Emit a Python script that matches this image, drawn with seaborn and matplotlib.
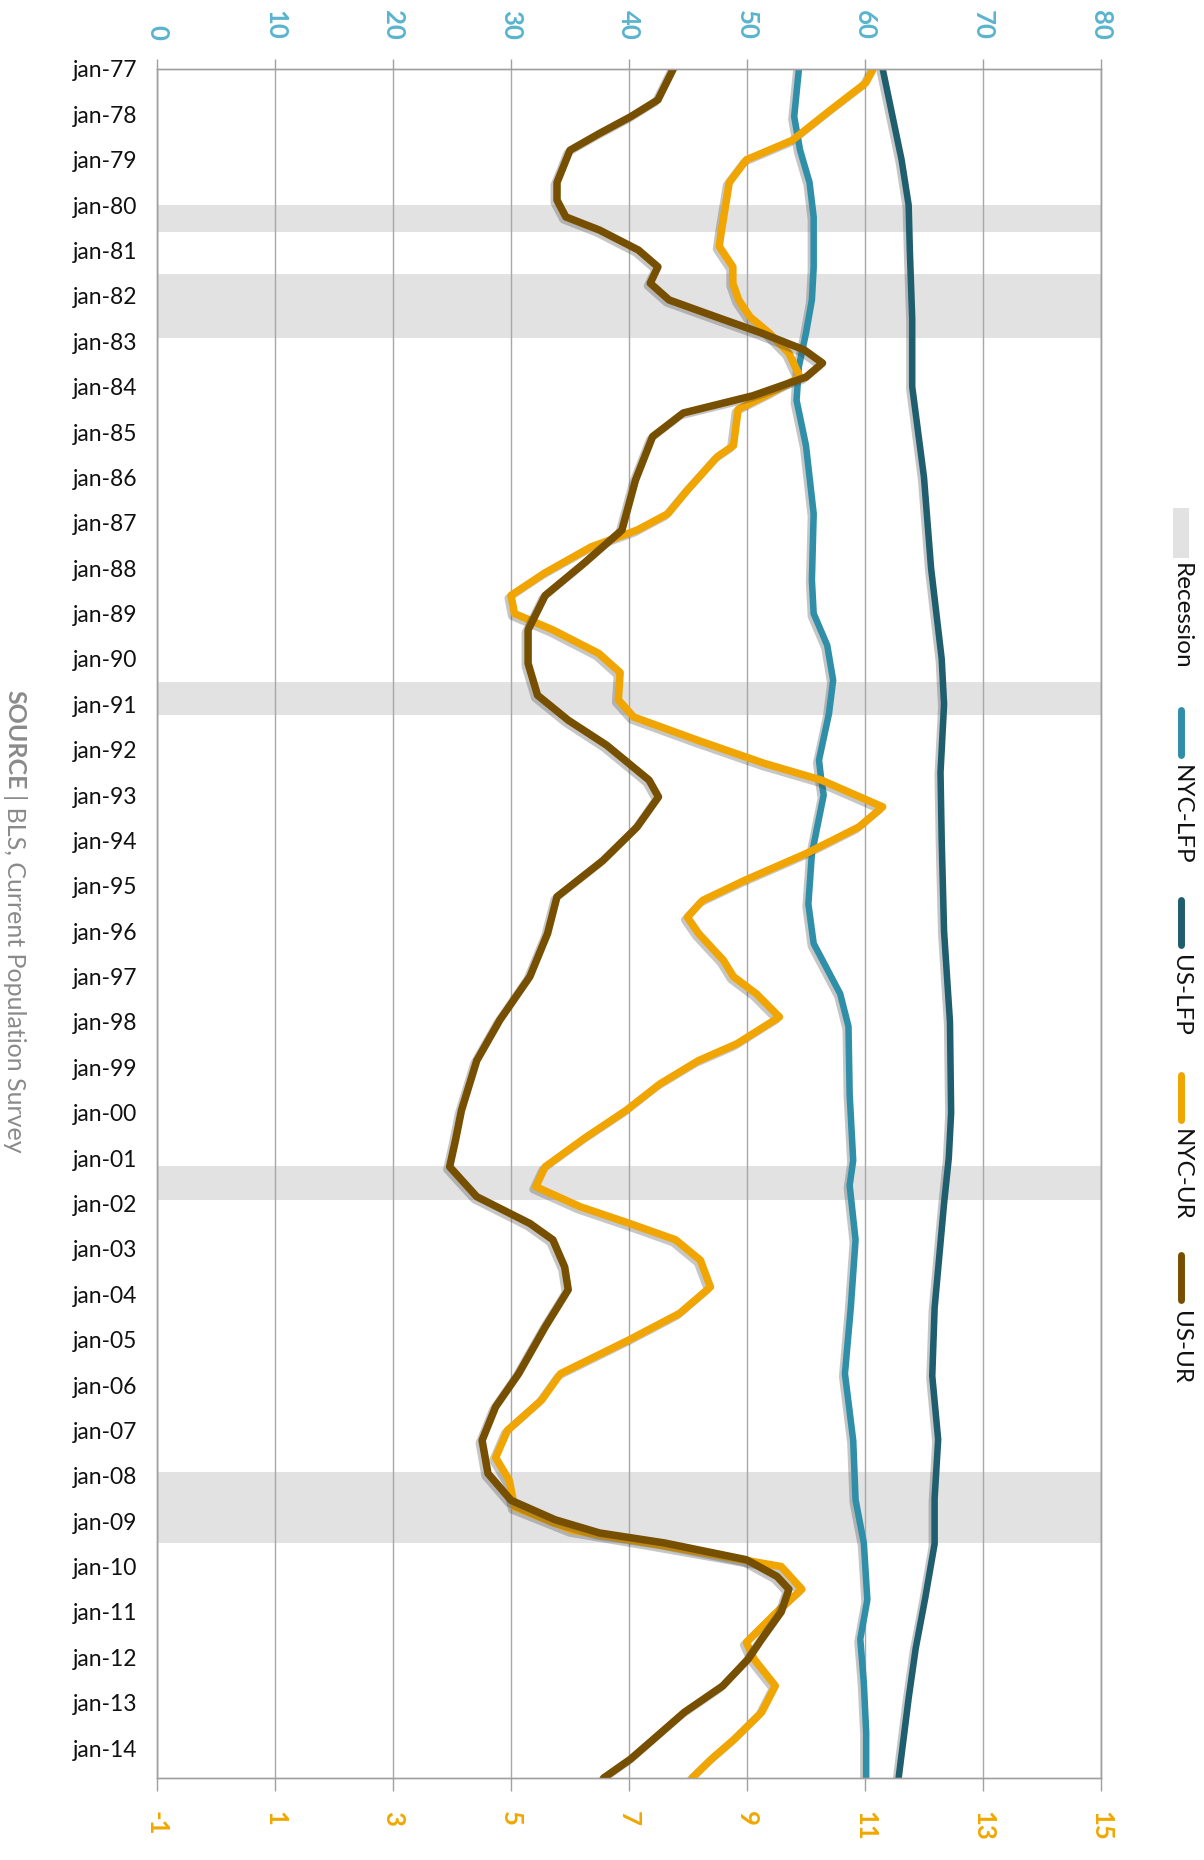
import matplotlib
matplotlib.use("Agg")
import matplotlib.pyplot as plt
import matplotlib.patheffects as pe
from matplotlib.lines import Line2D
from matplotlib.patches import Rectangle
import seaborn as sns

# data (decimal years)
nyc_lfp_t = [1977.0, 1978.05, 1978.79, 1979.5, 1980.26, 1981.36, 1982.09, 1982.82,
             1983.55, 1984.3, 1985.3, 1986.8, 1988.26, 1989.0, 1989.7, 1990.47,
             1991.2, 1992.23, 1992.67, 1993.0, 1994.29, 1995.4, 1996.27, 1997.38,
             1998.1, 1999.6, 2001.05, 2001.6, 2002.8, 2004.28, 2005.75, 2007.22,
             2008.53, 2009.48, 2010.73, 2011.6, 2012.56, 2013.66, 2014.66]
nyc_lfp = [54.4, 54.0, 54.5, 55.3, 55.65, 55.65, 55.5, 55.0,
           54.4, 54.2, 55.0, 55.65, 55.5, 55.65, 56.8, 57.3,
           56.95, 56.1, 56.3, 56.5, 55.5, 55.2, 55.65, 57.9,
           58.6, 58.7, 59.0, 58.7, 59.2, 58.8, 58.3, 59.0,
           59.2, 59.9, 60.2, 59.6, 59.9, 60.1, 60.1]

us_lfp_t = [1977.0, 1978.0, 1979.0, 1980.0, 1981.0, 1982.5, 1984.0, 1986.0, 1988.0,
            1990.0, 1991.0, 1992.5, 1994.0, 1996.0, 1998.0, 2000.0, 2001.0, 2002.0,
            2004.3, 2005.8, 2007.2, 2008.5, 2009.5, 2010.7, 2011.8, 2012.9, 2014.66]
us_lfp = [61.5, 62.3, 63.1, 63.7, 63.8, 64.0, 64.0, 65.0, 65.6,
          66.5, 66.7, 66.4, 66.5, 66.7, 67.2, 67.3, 67.1, 66.7,
          65.9, 65.7, 66.2, 65.9, 65.9, 65.1, 64.3, 63.7, 62.85]

nyc_ur_t = [1977.0, 1977.31, 1977.9, 1978.57, 1979.0, 1979.5, 1980.62, 1980.91,
            1981.36, 1981.72, 1982.09, 1982.46, 1982.82, 1983.26, 1983.79, 1984.14,
            1984.5, 1985.3, 1985.54, 1986.28, 1986.8, 1987.16, 1987.53, 1988.1,
            1988.6, 1989.0, 1989.36, 1989.88, 1990.3, 1990.9, 1991.28, 1991.8,
            1992.3, 1992.67, 1993.26, 1993.7, 1994.29, 1994.88, 1995.32, 1995.69,
            1996.05, 1996.64, 1997.0, 1997.38, 1997.89, 1998.48, 1998.85, 1999.36,
            1999.95, 2000.54, 2001.19, 2001.63, 2002.07, 2002.44, 2002.8, 2003.25,
            2003.84, 2004.42, 2005.0, 2005.75, 2006.33, 2007.0, 2007.6, 2008.1,
            2008.69, 2009.2, 2009.5, 2010.0, 2010.5, 2011.0, 2011.67, 2012.04,
            2012.63, 2013.21, 2013.8, 2014.24, 2014.66]
nyc_ur = [11.14, 11.01, 10.42, 9.77, 8.99, 8.7, 8.56, 8.53,
          8.76, 8.76, 8.86, 9.05, 9.38, 9.71, 9.9, 9.4,
          8.85, 8.77, 8.5, 7.99, 7.66, 7.14, 6.36, 5.58,
          5.0, 5.06, 5.71, 6.49, 6.85, 6.82, 7.08, 8.18,
          9.29, 10.26, 11.3, 10.9, 10.0, 8.96, 8.25, 7.99,
          8.18, 8.6, 8.77, 9.16, 9.55, 8.83, 8.18, 7.53,
          6.95, 6.27, 5.58, 5.42, 6.17, 7.01, 7.79, 8.21,
          8.38, 7.86, 7.01, 5.84, 5.52, 4.94, 4.74, 4.97,
          5.06, 6.04, 7.4, 9.58, 9.93, 9.51, 8.99, 9.12,
          9.48, 9.25, 8.79, 8.4, 8.07]

us_ur_t = [1977.0, 1977.68, 1978.05, 1978.42, 1978.79, 1979.5, 1979.89, 1980.26,
           1980.55, 1980.99, 1981.36, 1981.72, 1982.09, 1982.46, 1982.82, 1983.19,
           1983.48, 1983.79, 1984.2, 1984.58, 1985.1, 1986.06, 1987.16, 1987.9,
           1988.6, 1989.36, 1990.1, 1990.8, 1991.35, 1991.9, 1992.67, 1993.04,
           1993.7, 1994.44, 1995.24, 1996.05, 1997.0, 1997.96, 1998.85, 1999.95,
           2000.6, 2001.19, 2001.85, 2002.44, 2002.8, 2003.4, 2003.9, 2004.72,
           2005.75, 2006.48, 2007.22, 2007.95, 2008.54, 2008.97, 2009.26, 2009.48,
           2009.85, 2010.22, 2010.5, 2011.0, 2011.6, 2012.04, 2012.63, 2013.21,
           2013.8, 2014.24, 2014.66]
us_ur = [7.75, 7.49, 7.03, 6.5, 6.0, 5.78, 5.78, 5.93,
         6.5, 7.16, 7.49, 7.36, 7.68, 8.47, 9.25, 9.97,
         10.28, 10.0, 9.1, 7.92, 7.4, 7.11, 6.88, 6.23,
         5.58, 5.29, 5.29, 5.45, 5.97, 6.62, 7.34, 7.5,
         7.14, 6.56, 5.78, 5.62, 5.32, 4.81, 4.42, 4.16,
         4.06, 3.96, 4.42, 5.32, 5.71, 5.91, 5.97, 5.58,
         5.13, 4.74, 4.51, 4.61, 5.0, 5.75, 6.5, 7.6,
         8.99, 9.51, 9.71, 9.58, 9.25, 9.02, 8.59, 7.94,
         7.42, 7.03, 6.57]

recession_start = [1979.99, 1981.52, 1990.5, 2001.17, 2007.91]
recession_end = [1980.59, 1982.93, 1991.24, 2001.92, 2009.48]

year_ticks = list(range(1977, 2015))
year_labels = ["jan-%02d" % (y % 100) for y in year_ticks]
lfp_ticks = list(range(0, 81, 10))
ur_ticks = list(range(-1, 16, 2))

c_nyc_lfp = "#2f8fa8"
c_us_lfp = "#1f5e6e"
c_nyc_ur = "#f0a500"
c_us_ur = "#774f00"
grey = "#a0a0a0"

sns.set_style("white")
plt.rcParams["font.family"] = ["Lato", "DejaVu Sans"]

W, H = 1204, 1860
fig = plt.figure(figsize=(W / 100, H / 100), dpi=100)
ax = fig.add_axes([157 / W, 1 - 1778 / H, (1101 - 157) / W, (1778 - 69) / H])

# recession bands
for s, e in zip(recession_start, recession_end):
    ax.axhspan(s, e, color="#e2e2e2", lw=0, zorder=0)

shadow = [pe.SimpleLineShadow(offset=(-2, -2), shadow_color="#444444", alpha=0.3),
          pe.Normal()]

# labour force participation on the top scale
sns.lineplot(x=nyc_lfp, y=nyc_lfp_t, orient="y", sort=False, estimator=None,
             color=c_nyc_lfp, lw=4.7, ax=ax, path_effects=shadow)
sns.lineplot(x=us_lfp, y=us_lfp_t, orient="y", sort=False, estimator=None,
             color=c_us_lfp, lw=4.7, ax=ax, path_effects=shadow)
ax.set_xlim(0, 80)

# unemployment rate on the bottom scale
ax2 = ax.twiny()
sns.lineplot(x=nyc_ur, y=nyc_ur_t, orient="y", sort=False, estimator=None,
             color=c_nyc_ur, lw=5.4, ax=ax2, path_effects=shadow)
sns.lineplot(x=us_ur, y=us_ur_t, orient="y", sort=False, estimator=None,
             color=c_us_ur, lw=5.4, ax=ax2, path_effects=shadow)
ax2.set_xlim(-1, 15)
ax.set_ylim(2014.66, 1977.0)

for a in (ax, ax2):
    a.set_xlabel("")
    a.set_ylabel("")
    for sp in a.spines.values():
        sp.set_color(grey)
        sp.set_linewidth(1)

ax.grid(axis="x", color="#a8a8a8", lw=1)
ax.set_axisbelow(True)

ax.xaxis.set_ticks_position("top")
ax.set_xticks(lfp_ticks)
ax.set_xticklabels([str(v) for v in lfp_ticks])
ax.tick_params(axis="x", direction="out", length=7, width=1, color=grey,
               labelcolor="#5ab4cd", labelsize=18.5, labelrotation=-90, pad=14)

ax2.xaxis.set_ticks_position("bottom")
ax2.set_xticks(ur_ticks)
ax2.set_xticklabels([str(v) for v in ur_ticks])
ax2.tick_params(axis="x", direction="out", length=9, width=1, color=grey,
                labelcolor="#f0a800", labelsize=18.5, labelrotation=-90, pad=15)

ax.set_yticks(year_ticks)
ax.set_yticklabels(year_labels)
ax.tick_params(axis="y", direction="out", length=7, width=1, color=grey,
               labelcolor="#111111", labelsize=16.5, pad=7)
for t in ax.get_xticklabels() + ax2.get_xticklabels():
    t.set_fontweight("bold")

# legend, drawn rotated on the right
lx = 1181 / W


def fy(p):
    return 1 - p / H


fig.add_artist(Rectangle((lx - 8 / W, fy(558)), 16 / W, 50 / H,
                         transform=fig.transFigure, color="#e2e2e2", lw=0))
fig.text(lx, fy(563), "Recession", rotation=-90, ha="center", va="top",
         fontsize=17.5, color="#111111")
items = [("NYC-LFP", c_nyc_lfp, 706, 765),
         ("US-LFP", c_us_lfp, 896, 955),
         ("NYC-UR", c_nyc_ur, 1071, 1129),
         ("US-UR", c_us_ur, 1251, 1311)]
for name, col, y0, ty in items:
    fig.add_artist(Line2D([lx, lx], [fy(y0 + 4), fy(y0 + 49)],
                          transform=fig.transFigure, color=col, lw=5,
                          solid_capstyle="round"))
    fig.text(lx, fy(ty), name, rotation=-90, ha="center", va="top",
             fontsize=17.5, color="#111111")

# source note, rotated on the left
sx = 15 / W
src1 = fig.text(sx, fy(690), "SOURCE", rotation=-90, ha="center", va="top",
                fontsize=18, fontweight="bold", color="#8a8a8a")
r = fig.canvas.get_renderer()
bb = src1.get_window_extent(renderer=r)
fig.text(sx, bb.y0 / H - 4 / H, "| BLS, Current Population Survey",
         rotation=-90, ha="center", va="top", fontsize=18, color="#8a8a8a")

fig.savefig("out.png", dpi=100)
